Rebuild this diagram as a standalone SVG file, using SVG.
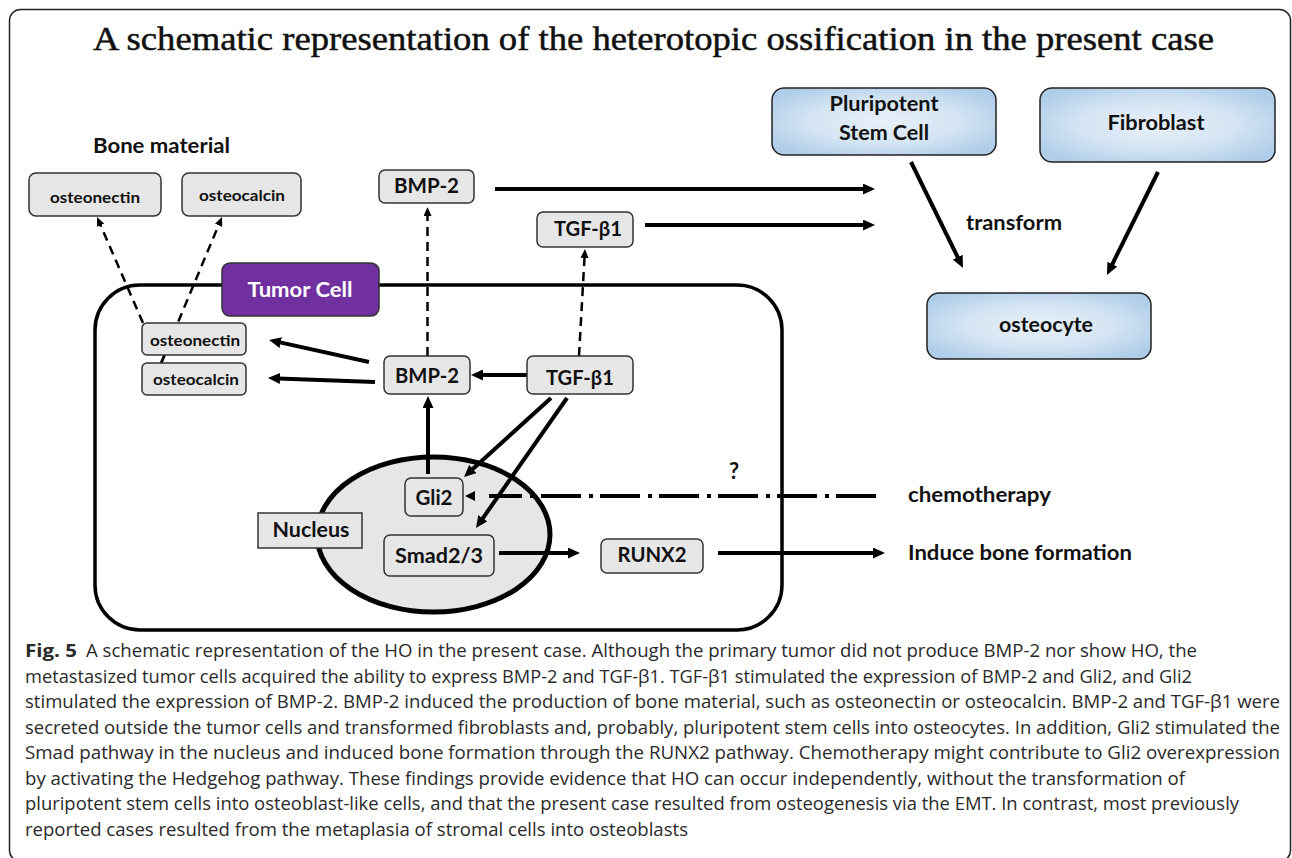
<svg xmlns="http://www.w3.org/2000/svg" width="1292" height="858" viewBox="0 0 1292 858">
<style>
.lbl{font-family:Lato,"Liberation Sans",sans-serif;font-weight:700;fill:#111;text-anchor:middle}
.free{font-family:Lato,"Liberation Sans",sans-serif;font-weight:700;fill:#111}
.gbox{fill:#e6e6e6;stroke:#333;stroke-width:1.5}
.bbox{fill:url(#blueg);stroke:#222;stroke-width:1.5}
.arr{stroke:#000;stroke-width:4;fill:none;marker-end:url(#ah)}
.darr{stroke:#000;stroke-width:2.5;fill:none;stroke-dasharray:9 6;marker-end:url(#dh)}
.cap{font-family:"Open Sans","Noto Sans",sans-serif;font-size:18px;fill:#2a2a2a}
</style>
<defs>
<radialGradient id="blueg" cx="0.5" cy="0.5" r="0.6">
<stop offset="0" stop-color="#e8f0f9"/>
<stop offset="0.55" stop-color="#d4e4f3"/>
<stop offset="1" stop-color="#afcde9"/>
</radialGradient>
<marker id="ah" markerUnits="userSpaceOnUse" markerWidth="12" markerHeight="11" refX="2" refY="5.5" orient="auto">
<path d="M0,0 L12,5.5 L0,11 z" fill="#000"/>
</marker>
<marker id="dh" markerUnits="userSpaceOnUse" markerWidth="9" markerHeight="8" refX="2" refY="4" orient="auto">
<path d="M0,0 L9,4 L0,8 z" fill="#000"/>
</marker>
</defs>
<rect width="1292" height="858" fill="#fff"/>
<rect x="9.5" y="9.5" width="1281" height="852" rx="11" fill="none" stroke="#222" stroke-width="1.5"/>
<text x="93" y="50" font-family="'Liberation Serif','DejaVu Serif',serif" font-size="34" fill="#111" stroke="#111" stroke-width="0.5" textLength="1121" lengthAdjust="spacingAndGlyphs">A schematic representation of the heterotopic ossification in the present case</text>
<text class="free" x="93" y="153" font-size="21" textLength="137" lengthAdjust="spacingAndGlyphs">Bone material</text>

<g id="tumor-cell">
<rect x="95" y="285" width="687" height="345" rx="45" fill="none" stroke="#000" stroke-width="3.5"/>
</g>
<g id="nucleus">
<ellipse cx="433.5" cy="534.5" rx="116.5" ry="77.5" fill="#e6e6e6" stroke="#000" stroke-width="5"/>
</g>

<g id="connectors">
<path class="arr" d="M495,189 L865,189"/>
<path class="arr" d="M645,225 L865,225"/>
<path class="arr" d="M911,162 L958.6,259"/>
<path class="arr" d="M1158,172 L1111.4,266"/>
<path class="arr" d="M369,362 L278.8,342.1"/>
<path class="arr" d="M375,382 L278,378.4"/>
<path class="arr" d="M527,375 L481,375"/>
<path class="arr" d="M428,474 L428,406"/>
<path class="arr" d="M551,398 L471.4,470.3"/>
<path class="arr" d="M567,398 L481.7,519.8"/>
<path class="arr" d="M499,553 L570,553"/>
<path class="arr" d="M718,553 L875,553"/>
<path class="darr" d="M427.5,356 L427.5,214"/>
<path class="darr" d="M579,356 L584.6,256"/>
<path class="darr" d="M143,323 L99.8,223.4"/>
<path class="darr" d="M161,363 L219.3,223.5"/>
<path d="M876,496 L489,496" stroke="#000" stroke-width="4" fill="none" stroke-dasharray="40 7 4 8"/>
<polygon points="465,496 475,491 475,501" fill="#000"/>
</g>

<g id="tumor-label">
<rect x="222" y="263" width="157" height="53" rx="8" fill="#7030a0" stroke="#333" stroke-width="1.5"/>
<text class="lbl" x="300" y="297" font-size="20" style="fill:#fff" textLength="105" lengthAdjust="spacingAndGlyphs">Tumor Cell</text>
</g>

<g id="osteonectin-out">
<rect class="gbox" x="29" y="173" width="132" height="43" rx="7"/>
<text class="lbl" x="95" y="203" font-size="16" textLength="90" lengthAdjust="spacingAndGlyphs">osteonectin</text>
</g>
<g id="osteocalcin-out">
<rect class="gbox" x="182" y="173" width="119" height="43" rx="7"/>
<text class="lbl" x="242" y="201" font-size="16" textLength="86" lengthAdjust="spacingAndGlyphs">osteocalcin</text>
</g>
<g id="bmp2-out">
<rect class="gbox" x="379" y="170" width="95" height="33" rx="6"/>
<text class="lbl" x="426.5" y="193" font-size="20" textLength="65" lengthAdjust="spacingAndGlyphs">BMP-2</text>
</g>
<g id="tgfb1-out">
<rect class="gbox" x="537" y="212" width="96" height="35" rx="6"/>
<text class="lbl" x="588" y="236" font-size="20" textLength="68" lengthAdjust="spacingAndGlyphs">TGF-β1</text>
</g>

<g id="osteonectin-in">
<line x1="165" y1="355" x2="161.5" y2="363" stroke="#000" stroke-width="2"/>
<rect class="gbox" x="142" y="323" width="104" height="32" rx="5"/>
<text class="lbl" x="195" y="346" font-size="15" textLength="90" lengthAdjust="spacingAndGlyphs">osteonectin</text>
</g>
<g id="osteocalcin-in">
<rect class="gbox" x="142" y="363" width="104" height="32" rx="5"/>
<text class="lbl" x="196" y="385" font-size="15" textLength="86" lengthAdjust="spacingAndGlyphs">osteocalcin</text>
</g>
<g id="bmp2-in">
<rect class="gbox" x="384" y="356" width="86" height="38" rx="6"/>
<text class="lbl" x="427" y="383" font-size="20" textLength="64" lengthAdjust="spacingAndGlyphs">BMP-2</text>
</g>
<g id="tgfb1-in">
<rect class="gbox" x="527" y="356" width="106" height="38" rx="6"/>
<text class="lbl" x="580" y="385" font-size="20" textLength="68" lengthAdjust="spacingAndGlyphs">TGF-β1</text>
</g>
<g id="nucleus-label">
<rect x="258" y="513" width="104" height="35" fill="#e6e6e6" stroke="#333" stroke-width="1.5"/>
<text class="lbl" x="311" y="537" font-size="20" textLength="77" lengthAdjust="spacingAndGlyphs">Nucleus</text>
</g>
<g id="gli2">
<rect class="gbox" x="405" y="478" width="58" height="38" rx="6"/>
<text class="lbl" x="434" y="505" font-size="20" textLength="37" lengthAdjust="spacingAndGlyphs">Gli2</text>
</g>
<g id="smad">
<rect class="gbox" x="384" y="535" width="110" height="41" rx="6"/>
<text class="lbl" x="439" y="563" font-size="20" textLength="88" lengthAdjust="spacingAndGlyphs">Smad2/3</text>
</g>
<g id="runx2">
<rect class="gbox" x="601" y="539" width="102" height="34" rx="6"/>
<text class="lbl" x="652" y="562" font-size="20" textLength="69" lengthAdjust="spacingAndGlyphs">RUNX2</text>
</g>

<g id="pluripotent">
<rect class="bbox" x="772" y="88" width="224" height="67" rx="12"/>
<text class="lbl" x="884" y="111" font-size="20" textLength="109" lengthAdjust="spacingAndGlyphs">Pluripotent</text>
<text class="lbl" x="884" y="140" font-size="20" textLength="90" lengthAdjust="spacingAndGlyphs">Stem Cell</text>
</g>
<g id="fibroblast">
<rect class="bbox" x="1040" y="88" width="235" height="74" rx="12"/>
<text class="lbl" x="1156" y="130" font-size="20" textLength="97" lengthAdjust="spacingAndGlyphs">Fibroblast</text>
</g>
<g id="osteocyte">
<rect class="bbox" x="927" y="293" width="224" height="66" rx="12"/>
<text class="lbl" x="1046" y="332" font-size="20" textLength="94" lengthAdjust="spacingAndGlyphs">osteocyte</text>
</g>

<text class="free" x="966" y="230" font-size="20" textLength="96" lengthAdjust="spacingAndGlyphs">transform</text>
<text class="free" x="729" y="479" font-size="22">?</text>
<text class="free" x="908" y="502" font-size="20" textLength="143" lengthAdjust="spacingAndGlyphs">chemotherapy</text>
<text class="free" x="908" y="560" font-size="20" textLength="224" lengthAdjust="spacingAndGlyphs">Induce bone formation</text>

<g id="caption">
<text class="cap" x="25" y="657" font-weight="700" textLength="52" lengthAdjust="spacingAndGlyphs">Fig. 5</text>
<text class="cap" x="86" y="657" textLength="1111" lengthAdjust="spacingAndGlyphs">A schematic representation of the HO in the present case. Although the primary tumor did not produce BMP-2 nor show HO, the</text>
<text class="cap" x="25" y="682.5" textLength="1167" lengthAdjust="spacingAndGlyphs">metastasized tumor cells acquired the ability to express BMP-2 and TGF-β1. TGF-β1 stimulated the expression of BMP-2 and Gli2, and Gli2</text>
<text class="cap" x="25" y="708" textLength="1255" lengthAdjust="spacingAndGlyphs">stimulated the expression of BMP-2. BMP-2 induced the production of bone material, such as osteonectin or osteocalcin. BMP-2 and TGF-β1 were</text>
<text class="cap" x="25" y="733.5" textLength="1255" lengthAdjust="spacingAndGlyphs">secreted outside the tumor cells and transformed fibroblasts and, probably, pluripotent stem cells into osteocytes. In addition, Gli2 stimulated the</text>
<text class="cap" x="25" y="759" textLength="1255" lengthAdjust="spacingAndGlyphs">Smad pathway in the nucleus and induced bone formation through the RUNX2 pathway. Chemotherapy might contribute to Gli2 overexpression</text>
<text class="cap" x="25" y="784.5" textLength="1160" lengthAdjust="spacingAndGlyphs">by activating the Hedgehog pathway. These findings provide evidence that HO can occur independently, without the transformation of</text>
<text class="cap" x="25" y="810" textLength="1214" lengthAdjust="spacingAndGlyphs">pluripotent stem cells into osteoblast-like cells, and that the present case resulted from osteogenesis via the EMT. In contrast, most previously</text>
<text class="cap" x="25" y="835.5" textLength="663" lengthAdjust="spacingAndGlyphs">reported cases resulted from the metaplasia of stromal cells into osteoblasts</text>
</g>
</svg>
